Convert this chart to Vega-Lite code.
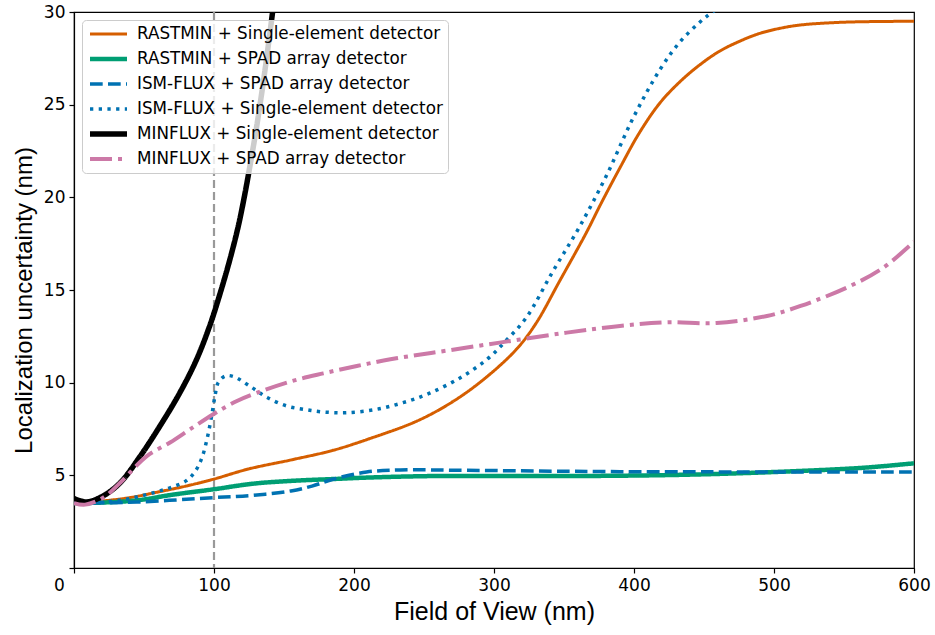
{
  "$schema": "https://vega.github.io/schema/vega-lite/v6.json",
  "width": 840,
  "height": 556,
  "autosize": "none",
  "padding": {"left": 74, "top": 12, "right": 21, "bottom": 67},
  "background": "white",
  "config": {
    "view": {"stroke": "black", "strokeWidth": 1.2},
    "axis": {
      "grid": false,
      "domainColor": "black",
      "domainWidth": 1.2,
      "tickColor": "black",
      "tickWidth": 1.2,
      "tickSize": 5,
      "labelColor": "black",
      "labelFont": "DejaVu Sans",
      "labelFontSize": 17,
      "labelPadding": 4,
      "labelFlush": false,
      "titleFont": "Liberation Sans",
      "titleFontWeight": "normal",
      "titleColor": "black",
      "titleLimit": 1000
    },
    "legend": {
      "orient": "top-left",
      "offset": 8,
      "symbolType": "stroke",
      "symbolSize": 1369,
      "labelFont": "DejaVu Sans",
      "labelFontSize": 16.8,
      "labelColor": "black",
      "labelOffset": 7,
      "labelLimit": 1000,
      "clipHeight": 18,
      "rowPadding": 7,
      "padding": 5,
      "fillColor": "rgba(255,255,255,0.8)",
      "strokeColor": "#cccccc",
      "cornerRadius": 4
    }
  },
  "datasets": {
    "curves": [
      {"s": "RASTMIN + Single-element detector", "x": 0, "y": 3.55},
      {"s": "RASTMIN + Single-element detector", "x": 20, "y": 3.62},
      {"s": "RASTMIN + Single-element detector", "x": 40, "y": 3.8},
      {"s": "RASTMIN + Single-element detector", "x": 60, "y": 4.1},
      {"s": "RASTMIN + Single-element detector", "x": 80, "y": 4.42},
      {"s": "RASTMIN + Single-element detector", "x": 100, "y": 4.8},
      {"s": "RASTMIN + Single-element detector", "x": 125, "y": 5.35},
      {"s": "RASTMIN + Single-element detector", "x": 155, "y": 5.83},
      {"s": "RASTMIN + Single-element detector", "x": 185, "y": 6.35},
      {"s": "RASTMIN + Single-element detector", "x": 210, "y": 6.95},
      {"s": "RASTMIN + Single-element detector", "x": 245, "y": 7.93},
      {"s": "RASTMIN + Single-element detector", "x": 270, "y": 8.95},
      {"s": "RASTMIN + Single-element detector", "x": 293, "y": 10.2},
      {"s": "RASTMIN + Single-element detector", "x": 316, "y": 11.8},
      {"s": "RASTMIN + Single-element detector", "x": 330, "y": 13.2},
      {"s": "RASTMIN + Single-element detector", "x": 347, "y": 15.5},
      {"s": "RASTMIN + Single-element detector", "x": 366, "y": 18.1},
      {"s": "RASTMIN + Single-element detector", "x": 376, "y": 19.6},
      {"s": "RASTMIN + Single-element detector", "x": 390, "y": 21.6},
      {"s": "RASTMIN + Single-element detector", "x": 404, "y": 23.5},
      {"s": "RASTMIN + Single-element detector", "x": 418.6, "y": 25.1},
      {"s": "RASTMIN + Single-element detector", "x": 433, "y": 26.25},
      {"s": "RASTMIN + Single-element detector", "x": 447, "y": 27.15},
      {"s": "RASTMIN + Single-element detector", "x": 461, "y": 27.88},
      {"s": "RASTMIN + Single-element detector", "x": 476, "y": 28.44},
      {"s": "RASTMIN + Single-element detector", "x": 490, "y": 28.85},
      {"s": "RASTMIN + Single-element detector", "x": 505, "y": 29.13},
      {"s": "RASTMIN + Single-element detector", "x": 519, "y": 29.3},
      {"s": "RASTMIN + Single-element detector", "x": 550, "y": 29.45},
      {"s": "RASTMIN + Single-element detector", "x": 600, "y": 29.5},

      {"s": "RASTMIN + SPAD array detector", "x": 0, "y": 3.5},
      {"s": "RASTMIN + SPAD array detector", "x": 20, "y": 3.53},
      {"s": "RASTMIN + SPAD array detector", "x": 45, "y": 3.65},
      {"s": "RASTMIN + SPAD array detector", "x": 70, "y": 3.95},
      {"s": "RASTMIN + SPAD array detector", "x": 100, "y": 4.25},
      {"s": "RASTMIN + SPAD array detector", "x": 128, "y": 4.55},
      {"s": "RASTMIN + SPAD array detector", "x": 155, "y": 4.7},
      {"s": "RASTMIN + SPAD array detector", "x": 185, "y": 4.8},
      {"s": "RASTMIN + SPAD array detector", "x": 210, "y": 4.88},
      {"s": "RASTMIN + SPAD array detector", "x": 255, "y": 4.96},
      {"s": "RASTMIN + SPAD array detector", "x": 300, "y": 4.97},
      {"s": "RASTMIN + SPAD array detector", "x": 375, "y": 4.97},
      {"s": "RASTMIN + SPAD array detector", "x": 447, "y": 5.05},
      {"s": "RASTMIN + SPAD array detector", "x": 520, "y": 5.24},
      {"s": "RASTMIN + SPAD array detector", "x": 566, "y": 5.42},
      {"s": "RASTMIN + SPAD array detector", "x": 600, "y": 5.65},

      {"s": "ISM-FLUX + SPAD array detector", "x": 0, "y": 3.5},
      {"s": "ISM-FLUX + SPAD array detector", "x": 45, "y": 3.56},
      {"s": "ISM-FLUX + SPAD array detector", "x": 100, "y": 3.8},
      {"s": "ISM-FLUX + SPAD array detector", "x": 128, "y": 3.92},
      {"s": "ISM-FLUX + SPAD array detector", "x": 155, "y": 4.16},
      {"s": "ISM-FLUX + SPAD array detector", "x": 170, "y": 4.42},
      {"s": "ISM-FLUX + SPAD array detector", "x": 185, "y": 4.79},
      {"s": "ISM-FLUX + SPAD array detector", "x": 209, "y": 5.18},
      {"s": "ISM-FLUX + SPAD array detector", "x": 233, "y": 5.29},
      {"s": "ISM-FLUX + SPAD array detector", "x": 280, "y": 5.27},
      {"s": "ISM-FLUX + SPAD array detector", "x": 390, "y": 5.2},
      {"s": "ISM-FLUX + SPAD array detector", "x": 600, "y": 5.18},

      {"s": "ISM-FLUX + Single-element detector", "x": 0, "y": 3.5},
      {"s": "ISM-FLUX + Single-element detector", "x": 20, "y": 3.55},
      {"s": "ISM-FLUX + Single-element detector", "x": 40, "y": 3.75},
      {"s": "ISM-FLUX + Single-element detector", "x": 57, "y": 4.07},
      {"s": "ISM-FLUX + Single-element detector", "x": 69, "y": 4.34},
      {"s": "ISM-FLUX + Single-element detector", "x": 80, "y": 4.7},
      {"s": "ISM-FLUX + Single-element detector", "x": 86, "y": 5.15},
      {"s": "ISM-FLUX + Single-element detector", "x": 91, "y": 5.87},
      {"s": "ISM-FLUX + Single-element detector", "x": 95, "y": 6.95},
      {"s": "ISM-FLUX + Single-element detector", "x": 98.3, "y": 8.2},
      {"s": "ISM-FLUX + Single-element detector", "x": 100.7, "y": 9.28},
      {"s": "ISM-FLUX + Single-element detector", "x": 103, "y": 10.0},
      {"s": "ISM-FLUX + Single-element detector", "x": 108, "y": 10.36},
      {"s": "ISM-FLUX + Single-element detector", "x": 114, "y": 10.33},
      {"s": "ISM-FLUX + Single-element detector", "x": 126, "y": 9.79},
      {"s": "ISM-FLUX + Single-element detector", "x": 138, "y": 9.2},
      {"s": "ISM-FLUX + Single-element detector", "x": 152, "y": 8.74},
      {"s": "ISM-FLUX + Single-element detector", "x": 165, "y": 8.55},
      {"s": "ISM-FLUX + Single-element detector", "x": 178, "y": 8.42},
      {"s": "ISM-FLUX + Single-element detector", "x": 195, "y": 8.38},
      {"s": "ISM-FLUX + Single-element detector", "x": 216, "y": 8.56},
      {"s": "ISM-FLUX + Single-element detector", "x": 235, "y": 8.92},
      {"s": "ISM-FLUX + Single-element detector", "x": 254, "y": 9.43},
      {"s": "ISM-FLUX + Single-element detector", "x": 276, "y": 10.27},
      {"s": "ISM-FLUX + Single-element detector", "x": 295, "y": 11.26},
      {"s": "ISM-FLUX + Single-element detector", "x": 309, "y": 12.3},
      {"s": "ISM-FLUX + Single-element detector", "x": 323, "y": 13.5},
      {"s": "ISM-FLUX + Single-element detector", "x": 342, "y": 16.0},
      {"s": "ISM-FLUX + Single-element detector", "x": 361, "y": 18.4},
      {"s": "ISM-FLUX + Single-element detector", "x": 380.5, "y": 21.2},
      {"s": "ISM-FLUX + Single-element detector", "x": 399.5, "y": 24.3},
      {"s": "ISM-FLUX + Single-element detector", "x": 418.6, "y": 26.9},
      {"s": "ISM-FLUX + Single-element detector", "x": 433, "y": 28.4},
      {"s": "ISM-FLUX + Single-element detector", "x": 447, "y": 29.45},
      {"s": "ISM-FLUX + Single-element detector", "x": 457, "y": 30.05},
      {"s": "ISM-FLUX + Single-element detector", "x": 475, "y": 31.0},

      {"s": "MINFLUX + Single-element detector", "x": 0, "y": 3.75},
      {"s": "MINFLUX + Single-element detector", "x": 9, "y": 3.56},
      {"s": "MINFLUX + Single-element detector", "x": 21, "y": 3.9},
      {"s": "MINFLUX + Single-element detector", "x": 33, "y": 4.6},
      {"s": "MINFLUX + Single-element detector", "x": 47, "y": 6.0},
      {"s": "MINFLUX + Single-element detector", "x": 61.4, "y": 7.66},
      {"s": "MINFLUX + Single-element detector", "x": 75.7, "y": 9.47},
      {"s": "MINFLUX + Single-element detector", "x": 87.6, "y": 11.26},
      {"s": "MINFLUX + Single-element detector", "x": 97.1, "y": 13.1},
      {"s": "MINFLUX + Single-element detector", "x": 104.3, "y": 14.8},
      {"s": "MINFLUX + Single-element detector", "x": 111.4, "y": 16.66},
      {"s": "MINFLUX + Single-element detector", "x": 117.4, "y": 18.46},
      {"s": "MINFLUX + Single-element detector", "x": 122.1, "y": 20.2},
      {"s": "MINFLUX + Single-element detector", "x": 125.7, "y": 21.7},
      {"s": "MINFLUX + Single-element detector", "x": 130, "y": 23.6},
      {"s": "MINFLUX + Single-element detector", "x": 135, "y": 26.1},
      {"s": "MINFLUX + Single-element detector", "x": 140, "y": 28.9},
      {"s": "MINFLUX + Single-element detector", "x": 145, "y": 31.9},

      {"s": "MINFLUX + SPAD array detector", "x": 0, "y": 3.5},
      {"s": "MINFLUX + SPAD array detector", "x": 8, "y": 3.42},
      {"s": "MINFLUX + SPAD array detector", "x": 21, "y": 3.8},
      {"s": "MINFLUX + SPAD array detector", "x": 33, "y": 4.6},
      {"s": "MINFLUX + SPAD array detector", "x": 52, "y": 6.04},
      {"s": "MINFLUX + SPAD array detector", "x": 68.6, "y": 6.77},
      {"s": "MINFLUX + SPAD array detector", "x": 83, "y": 7.49},
      {"s": "MINFLUX + SPAD array detector", "x": 99.5, "y": 8.3},
      {"s": "MINFLUX + SPAD array detector", "x": 116, "y": 9.0},
      {"s": "MINFLUX + SPAD array detector", "x": 130.5, "y": 9.45},
      {"s": "MINFLUX + SPAD array detector", "x": 154, "y": 10.05},
      {"s": "MINFLUX + SPAD array detector", "x": 178, "y": 10.5},
      {"s": "MINFLUX + SPAD array detector", "x": 202, "y": 10.9},
      {"s": "MINFLUX + SPAD array detector", "x": 226, "y": 11.26},
      {"s": "MINFLUX + SPAD array detector", "x": 255, "y": 11.6},
      {"s": "MINFLUX + SPAD array detector", "x": 304, "y": 12.16},
      {"s": "MINFLUX + SPAD array detector", "x": 352, "y": 12.7},
      {"s": "MINFLUX + SPAD array detector", "x": 390, "y": 13.06},
      {"s": "MINFLUX + SPAD array detector", "x": 423, "y": 13.26},
      {"s": "MINFLUX + SPAD array detector", "x": 459, "y": 13.22},
      {"s": "MINFLUX + SPAD array detector", "x": 495, "y": 13.6},
      {"s": "MINFLUX + SPAD array detector", "x": 519, "y": 14.14},
      {"s": "MINFLUX + SPAD array detector", "x": 554, "y": 15.2},
      {"s": "MINFLUX + SPAD array detector", "x": 578, "y": 16.2},
      {"s": "MINFLUX + SPAD array detector", "x": 600, "y": 17.6}
    ],
    "marker": [{"x": 100}]
  },
  "layer": [
    {
      "data": {"name": "marker"},
      "mark": {"type": "rule", "color": "#999999", "strokeWidth": 2.2, "strokeDash": [8, 4]},
      "encoding": {
        "x": {"field": "x", "type": "quantitative"}
      }
    },
    {
      "data": {"name": "curves"},
      "mark": {"type": "line", "interpolate": "catmull-rom", "clip": true, "strokeCap": "butt"},
      "encoding": {
        "x": {
          "field": "x",
          "type": "quantitative",
          "scale": {"domain": [0, 600], "nice": false},
          "axis": {
            "title": "Field of View (nm)",
            "titleFontSize": 25,
            "titlePadding": 6,
            "values": [0, 100, 200, 300, 400, 500, 600],
            "labelOffset": {"condition": {"test": "datum.value === 0", "value": -15}, "value": 0}
          }
        },
        "y": {
          "field": "y",
          "type": "quantitative",
          "scale": {"domain": [0, 30], "nice": false},
          "axis": {
            "title": "Localization uncertainty (nm)",
            "titleFontSize": 24,
            "titlePadding": 7,
            "titleY": 288,
            "values": [0, 5, 10, 15, 20, 25, 30],
            "labelExpr": "datum.value === 0 ? '' : datum.label"
          }
        },
        "color": {
          "field": "s",
          "type": "nominal",
          "title": null,
          "scale": {
            "domain": ["RASTMIN + Single-element detector", "RASTMIN + SPAD array detector", "ISM-FLUX + SPAD array detector", "ISM-FLUX + Single-element detector", "MINFLUX + Single-element detector", "MINFLUX + SPAD array detector"],
            "range": ["#d55e00", "#009e73", "#0072b2", "#0072b2", "#000000", "#cc79a7"]
          }
        },
        "strokeDash": {
          "field": "s",
          "type": "nominal",
          "title": null,
          "scale": {
            "domain": ["RASTMIN + Single-element detector", "RASTMIN + SPAD array detector", "ISM-FLUX + SPAD array detector", "ISM-FLUX + Single-element detector", "MINFLUX + Single-element detector", "MINFLUX + SPAD array detector"],
            "range": [[1, 0], [1, 0], [12.7, 5.3], [3.3, 5.4], [1, 0], [22, 6, 4, 6]]
          }
        },
        "strokeWidth": {
          "field": "s",
          "type": "nominal",
          "title": null,
          "scale": {
            "type": "ordinal",
            "domain": ["RASTMIN + Single-element detector", "RASTMIN + SPAD array detector", "ISM-FLUX + SPAD array detector", "ISM-FLUX + Single-element detector", "MINFLUX + Single-element detector", "MINFLUX + SPAD array detector"],
            "range": [3, 4.5, 3.5, 3.5, 5.5, 4]
          }
        }
      }
    }
  ]
}
